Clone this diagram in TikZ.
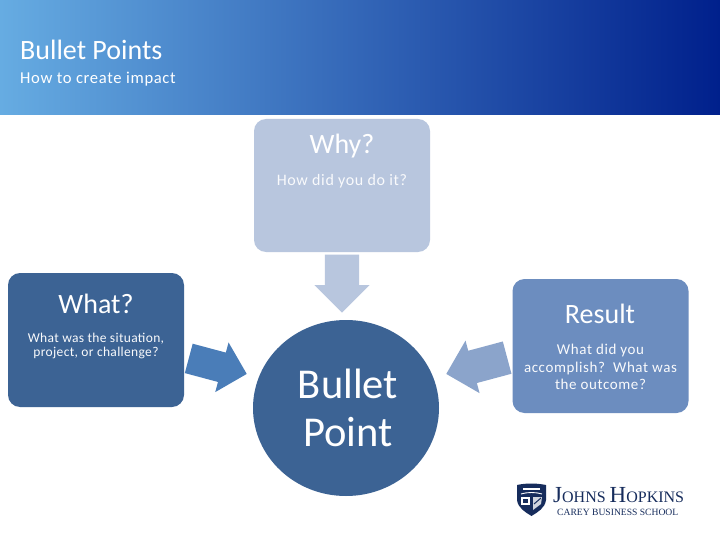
\documentclass[tikz,border=0pt]{standalone}
\usepackage{fontspec}
\setmainfont{Carlito}
\newfontfamily\logofont{Liberation Serif}
\newfontfamily\spacedfont[LetterSpace=4]{Carlito}
\newfontfamily\tightfont[LetterSpace=2.5]{Carlito}
\usetikzlibrary{shapes.geometric,shapes.arrows}
\definecolor{hopDark}   {RGB}{60,  99, 148}
\definecolor{hopMid}    {RGB}{108,141, 191}
\definecolor{hopLight}  {RGB}{184,198, 222}
\definecolor{hopArrowA} {RGB}{74, 125, 184}
\definecolor{hopArrowB} {RGB}{139,164, 203}
\definecolor{hopNavy}   {RGB}{22,  44,  92}
\definecolor{hopBannerA}{RGB}{102,172, 226}
\definecolor{hopBannerB}{RGB}{80, 130, 192}
\definecolor{hopBannerC}{RGB}{0,   32, 140}
\newcommand{\fs}[1]{\fontsize{#1pt}{1.17\dimexpr#1pt\relax}\selectfont}
\tikzset{
  panel/.style={rounded corners=12pt,inner sep=0pt,minimum width=176pt},
  blockarrow/.style={single arrow,anchor=tip,inner xsep=0pt,single arrow head extend=10.5pt},
  headtext/.style={white,font=\fs{28},inner sep=0pt},
  subtext/.style={white!92!hopLight,align=center,inner sep=0pt},
}
\begin{document}
\begin{tikzpicture}[x=1pt,y=-1pt]
  \useasboundingbox (0,0) rectangle (720,540);
  \fill[white] (0,0) rectangle (720,540);
  % Banner
  \shade[left color=hopBannerA,middle color=hopBannerB,right color=hopBannerC]
    (0,0) rectangle (720,115);
  \node[white,font=\fs{28},anchor=base west,inner sep=0pt] (title) at (20,60) {Bullet Points};
  \node[white,font=\spacedfont\fs{16.6},anchor=base west,inner sep=0pt] (subtitle) at (20,84) {How to create impact};
  % Panels
  \node[panel,fill=hopLight,minimum height=133pt] (why) at (342,185.5) {};
  \node[panel,fill=hopDark,minimum height=134pt] (what) at (96,340) {};
  \node[panel,fill=hopMid,minimum height=134pt] (result) at (600.5,346) {};
  \node[ellipse,fill=hopDark,inner sep=0pt,minimum width=186pt,minimum height=176pt,
        align=center,text=white,font=\fs{42.5}] (bullet) at (346,408) {\hspace*{4pt}Bullet\\[-2pt]\hspace*{4pt}Point};
  % Arrows
  \foreach \nam/\px/\py/\ang/\len/\shaft/\col in {
    whyarrow/342/313/-90/58/17/hopLight,
    whatarrow/247/374/-15/60/15/hopArrowA,
    resultarrow/446/374/195/63/16.5/hopArrowB}{
    \node[blockarrow,rotate=\ang,minimum height=\len pt,inner ysep=\shaft pt,fill=\col] (\nam) at (\px,\py) {};
  }
  % Texts
  \node[headtext] (whyhead) at (342,146.5) {Why?};
  \node[subtext,font=\spacedfont\fs{16}] (whysub) at (342,181.5) {How did you do it?};
  \node[headtext] (whathead) at (96,303.5) {What?};
  \node[subtext,font=\tightfont\fs{13.5}] (whatsub) at (96,346) {What was the situation,\\[-1.5pt]project, or challenge?};
  \node[headtext] (resulthead) at (600,313.5) {Result};
  \node[subtext,font=\spacedfont\fs{15}] (resultsub) at (600.5,367) {What did you\\accomplish?\ \ What was\\the outcome?};
  % Logo
  \fill[hopNavy] (517,485) .. controls (526,483) and (536,483) .. (546,485)
    -- (546,500) .. controls (545,508) and (538,512) .. (531.5,516)
    .. controls (525,512) and (518,508) .. (517,500) -- cycle;
  \draw[white,line width=0.9pt] (521,494) .. controls (527,492) and (536,492) .. (542,494);
  \fill[white] (523,487.5) rectangle (540,490);
  \fill[white] (521,497) rectangle (529.5,505);
  \fill[white!80!hopNavy] (533,497) -- (542,497) -- (541,504) -- (533,510) -- cycle;
  \fill[hopNavy] (523,499) rectangle (527.5,503);
  \draw[hopNavy,line width=1pt] (534,504) -- (541,498);
  \node[hopNavy,anchor=base west,inner sep=0pt,font=\logofont\fs{16}] (jhu) at (553,502.5)
    {{\fs{23}J}OHNS {\fs{23}H}OPKINS};
  \node[hopNavy,anchor=base west,inner sep=0pt,font=\logofont\fs{9.6}] (carey) at (557,515)
    {CAREY BUSINESS SCHOOL};
\end{tikzpicture}
\end{document}
